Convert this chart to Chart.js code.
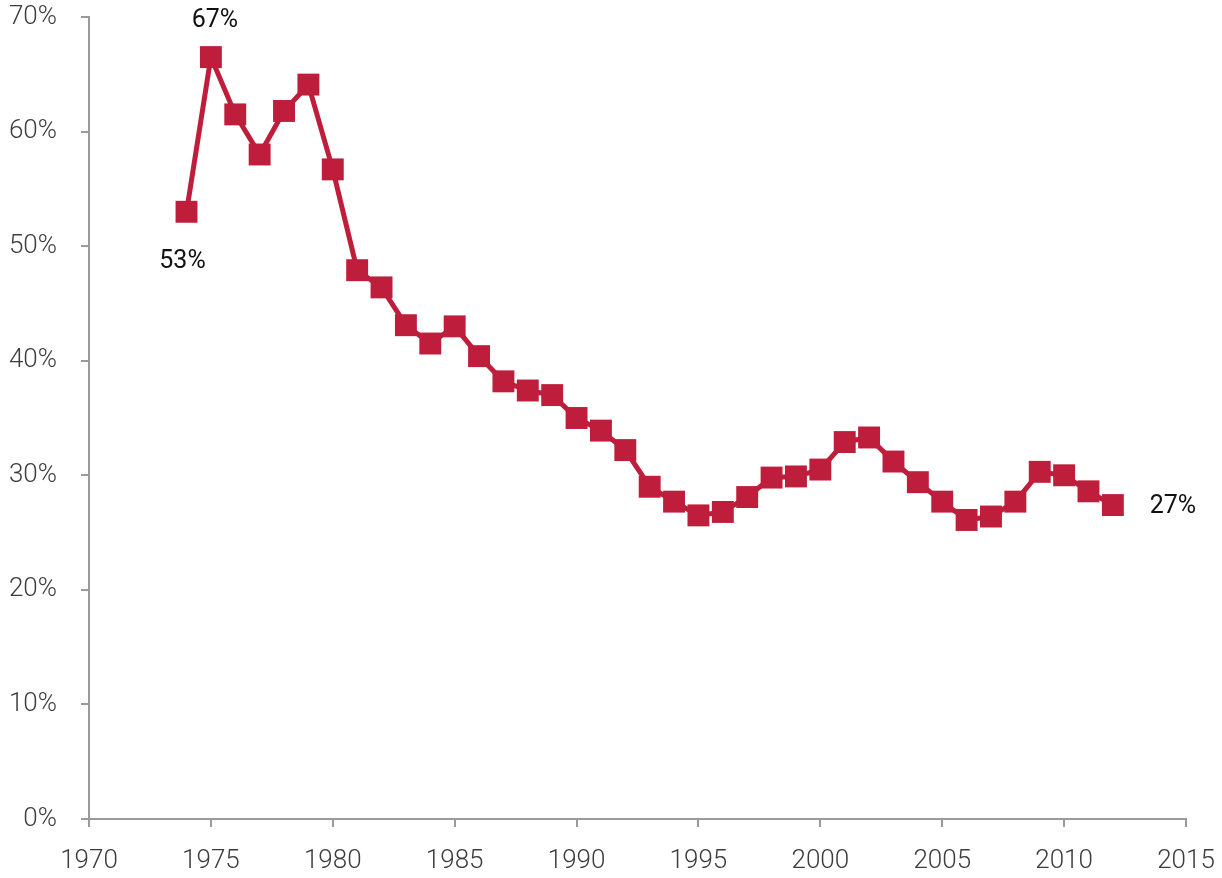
<!DOCTYPE html>
<html>
<head>
<meta charset="utf-8">
<script src="https://cdn.jsdelivr.net/npm/chart.js@4"></script>
<style>
  html, body { margin: 0; padding: 0; background: #fff; }
  #wrap { width: 1222px; height: 878px; }
</style>
</head>
<body>
<div id="wrap"><canvas id="grafico" width="1222" height="878"></canvas></div>
<script>
// Datos
const years = [1974, 1975, 1976, 1977, 1978, 1979, 1980, 1981, 1982, 1983,
  1984, 1985, 1986, 1987, 1988, 1989, 1990, 1991, 1992, 1993,
  1994, 1995, 1996, 1997, 1998, 1999, 2000, 2001, 2002, 2003,
  2004, 2005, 2006, 2007, 2008, 2009, 2010, 2011, 2012];
const shares = [53.0, 66.5, 61.5, 58.0, 61.8, 64.1, 56.7, 47.9, 46.4, 43.1,
  41.5, 43.0, 40.4, 38.2, 37.4, 37.0, 35.0, 33.9, 32.2, 29.0,
  27.7, 26.5, 26.8, 28.1, 29.8, 29.9, 30.5, 32.9, 33.3, 31.2,
  29.4, 27.7, 26.1, 26.4, 27.7, 30.3, 30.0, 28.6, 27.4];
const xTicks = [1970, 1975, 1980, 1985, 1990, 1995, 2000, 2005, 2010, 2015];
const yTicks = [0, 10, 20, 30, 40, 50, 60, 70];
// puntos con etiqueta: indice y desplazamiento
const labelled = [
  { i: 0, dx: -4, dy: 50 },
  { i: 1, dx: 4, dy: -36 },
  { i: years.length - 1, dx: 60, dy: 2 }
];

const red = '#BE1E3C';
const axisGrey = '#9a9a9a';
const tickFont = { family: "Roboto, 'DejaVu Sans Condensed', sans-serif", size: 26, weight: '300' };

// Etiquetas de valor sobre algunos puntos
const valueLabels = {
  id: 'valueLabels',
  afterDatasetsDraw(chart) {
    const meta = chart.getDatasetMeta(0);
    const c = chart.ctx;
    c.save();
    c.font = "25px Roboto, 'Liberation Sans', sans-serif";
    c.fillStyle = '#111';
    c.textAlign = 'center';
    c.textBaseline = 'middle';
    labelled.forEach(l => {
      const p = meta.data[l.i];
      c.fillText(Math.round(shares[l.i]) + '%', p.x + l.dx, p.y + l.dy);
    });
    c.restore();
  }
};

const ctx = document.getElementById('grafico').getContext('2d');
new Chart(ctx, {
  type: 'line',
  data: {
    datasets: [{
      data: years.map((y, i) => ({ x: y, y: shares[i] })),
      borderColor: red,
      backgroundColor: red,
      borderWidth: 5,
      pointStyle: 'rect',
      pointRadius: 15.5,
      pointBorderWidth: 0,
      pointBackgroundColor: red,
      tension: 0
    }]
  },
  options: {
    responsive: false,
    animation: false,
    layout: { padding: { top: 17, right: 36, left: 0, bottom: 0 } },
    plugins: { legend: { display: false }, tooltip: { enabled: false } },
    scales: {
      x: {
        type: 'linear',
        min: 1970,
        max: 2015,
        afterBuildTicks: s => { s.ticks = xTicks.map(v => ({ value: v })); },
        afterFit: s => { s.height = 59; s.paddingLeft = 0; s.paddingRight = 0; },
        grid: { drawOnChartArea: false, drawTicks: true, tickLength: 8, color: axisGrey, lineWidth: 2 },
        border: { display: true, color: axisGrey, width: 2 },
        ticks: { font: tickFont, color: '#3c3c3c', padding: 19, maxRotation: 0, callback: v => String(v) }
      },
      y: {
        min: 0,
        max: 70,
        afterBuildTicks: s => { s.ticks = yTicks.map(v => ({ value: v })); },
        afterFit: s => { s.width = 89; s.paddingTop = 0; s.paddingBottom = 0; },
        grid: { drawOnChartArea: false, drawTicks: true, tickLength: 8, color: axisGrey, lineWidth: 2 },
        border: { display: true, color: axisGrey, width: 2 },
        ticks: { font: tickFont, color: '#3c3c3c', padding: 24, callback: v => v + '%' }
      }
    }
  },
  plugins: [valueLabels]
});
</script>
</body>
</html>
